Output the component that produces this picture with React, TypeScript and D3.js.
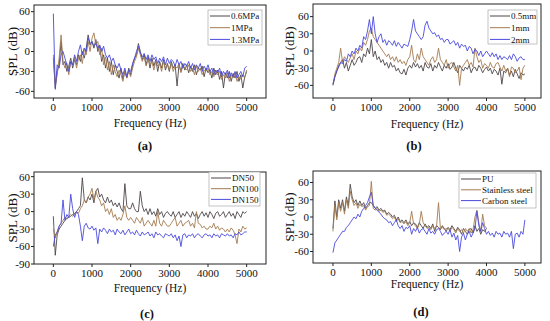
import React from 'react';
import * as d3 from 'd3';

// frequency step (Hz) between successive values
const STEP = 50;
const X_TICKS = [0, 1000, 2000, 3000, 4000, 5000];

// (a) pressure
const A_NAMES = ['0.6MPa', '1MPa', '1.3MPa'];
const A_06 = [
  -10, -55, -30, -20, 15, -20, -15, -30, -22, -10,
  -25, -12, -20, -5, -15, 0, -10, 5, 25, 10,
  15, 5, 18, 0, 8, -15, -5, -25, -10, -30,
  -15, -35, -20, -30, -40, -25, -42, -30, -40, -25,
  -35, -20, -10, -5, 12, 0, -12, -5, -20, -8,
  -25, -10, -22, -12, -30, -15, -25, -12, -28, -18,
  -30, -15, -25, -20, -52, -20, -30, -18, -28, -20,
  -32, -22, -30, -20, -35, -25, -28, -22, -38, -25,
  -32, -28, -40, -25, -35, -28, -42, -30, -55, -32,
  -40, -30, -45, -33, -40, -30, -45, -35, -55, -38,
  -30,
];
const A_1 = [
  -5, -50, -35, -10, 25, -15, -25, -18, -35, -15,
  -20, -8, -25, -10, -5, -18, 5, -5, 15, 0,
  20, 28, 10, 15, -5, 5, -20, -8, -28, -15,
  -35, -20, -30, -38, -28, -35, -45, -28, -40, -30,
  -38, -25, -15, -8, 5, -5, -15, -8, -22, -12,
  -20, -15, -28, -15, -22, -18, -30, -15, -25, -20,
  -28, -18, -30, -22, -25, -18, -32, -22, -25, -28,
  -20, -30, -25, -35, -22, -30, -25, -35, -28, -30,
  -25, -35, -30, -38, -28, -35, -30, -42, -35, -40,
  -32, -45, -35, -40, -32, -45, -38, -42, -35, -40,
  -28,
];
const A_13 = [
  57, -57, -20, -25, -5, 0, -10, -20, -30, -15,
  -20, -5, -15, 0, 10, -5, 5, 0, 20, 12,
  15, 8, 12, 5, 10, 0, 8, -5, -10, -5,
  -15, -10, -20, -25, -18, -28, -35, -25, -38, -28,
  -30, -18, -10, 0, 8, -2, -8, -3, -12, -5,
  -15, -5, -12, -8, -18, -10, -15, -8, -20, -10,
  -18, -12, -15, -22, -12, -20, -15, -25, -18, -22,
  -15, -25, -18, -28, -20, -25, -18, -30, -22, -28,
  -20, -30, -25, -35, -28, -32, -25, -38, -30, -35,
  -28, -40, -32, -38, -30, -40, -35, -30, -38, -25,
  -22,
];

// (b) gap
const B_NAMES = ['0.5mm', '1mm', '2mm'];
const B_05 = [
  -60, -45, -35, -25, -20, -15, -30, -20, -35, -25,
  -15, -25, -20, -12, -10, -20, -5, -10, 5, -5,
  20, -10, 0, -15, -10, -20, -15, -25, -20, -30,
  -20, -28, -25, -35, -30, -38, -40, -32, -42, -30,
  -25, -30, -20, -28, -22, -30, -25, -35, -20, -28,
  -30, -22, -35, -25, -30, -20, -28, -35, -25, -30,
  -22, -32, -28, -20, -30, -38, -25, -30, -35, -28,
  -32, -25, -38, -30, -28, -35, -25, -30, -38, -32,
  -28, -35, -30, -40, -32, -35, -42, -30, -58, -35,
  -38, -30, -42, -35, -45, -32, -40, -48, -38, -42,
  -40,
];
const B_1 = [
  -58, -40, -30, -20, 5, -20, -10, -15, -20, -12,
  -5, -15, 0, -5, 5, 0, 15, 10, 20, 35,
  40, 25, 20, 15, 10, 5, 0, -5, -10, -5,
  -15, -10, -18, -10, -20, -15, -22, -18, -25, -15,
  -10, 10, -15, -20, -5, -15, 5, -10, -15, -20,
  -25, -15, -10, -20, -15, 5, -15, -20, -25, -15,
  -30, -22, -20, -28, -35, -25, -60, -30, -25, -20,
  -15, -25, -20, -28, 5, -10, -20, -15, -30, -22,
  -25, -30, -20, -28, -30, -22, -20, -28, -35, -25,
  -35, -30, -45, -28, -30, -38, -35, -28, -50, -30,
  -25,
];
const B_2 = [
  -58, -45, -35, -28, -20, -22, -15, -18, -5, -10,
  0, -5, 5, 0, 10, 5, 25, 20, 35, 55,
  30, 60, 30, 15, 25, 30, 15, 20, 10, 18,
  15, 10, 18, 8, 15, 10, 5, 12, 10, 8,
  20, 35, 55, 35, 30, 25, 20, 25, 45, 52,
  40, 35, 30, 32, 25, 28, 20, 22, 15, 20,
  20, 12, 15, 18, 10, 15, 5, 12, 8, 10,
  0, 8, 5, -5, 3, 0, -8, 0, -10, -5,
  0, -5, -10, -3, -10, -5, -15, -8, -15, -10,
  -12, -15, -8, -15, -5, -10, -18, -12, -10, -15,
  -15,
];

// (c) pipe diameter
const C_NAMES = ['DN50', 'DN100', 'DN150'];
const C_50 = [
  -8, -75, -40, -30, -25, -20, -15, -12, -10, -8,
  -5, -3, 0, 5, 10, 58, 20, 15, 25, 20,
  30, 15, 35, 40, 25, 30, 20, 15, 25, 15,
  20, 10, 15, 8, 15, 5, 0, 48, 10, 5,
  5, 15, 5, 0, 0, 35, 10, 0, 5, -5,
  5, -5, 0, -8, 5, -5, 0, -10, -3, 0,
  -5, -8, 0, -10, -5, 0, -10, -3, -8, 0,
  -5, -10, 0, -8, -3, -12, -5, 0, -8, -2,
  -10, 0, -5, -12, -3, 0, -8, -5, 0, -10,
  -5, 0, -8, -3, -12, 0, -5, -10, 0, -3,
  0,
];
const C_100 = [
  -30, -45, -35, -25, -20, -15, -10, -12, -8, -5,
  -8, -5, 0, -3, 5, 10, 20, 15, 25, 30,
  40, 20, 35, 25, 20, 10, 15, 0, 5, -5,
  5, -10, -5, -15, -10, -15, -5, 10, -10, -15,
  -10, -15, -20, -10, -15, -20, -10, -25, -20, -15,
  -20, -25, -15, -25, 0, -20, -25, -15, -20, -25,
  -25, -20, -15, -10, -25, -20, -15, -25, -20, -18,
  -15, -25, -20, -28, 0, -20, -22, -28, -25, -30,
  -30, -25, -28, -20, -30, -25, -32, -28, -30, -35,
  -30, -35, -28, -32, -40, -55, -30, -35, -25, -30,
  -28,
];
const C_150 = [
  -60, -40, -35, -25, -20, 20, -15, -5, -10, 30,
  5, -10, 0, -5, -25, -50, -25, -20, -28, -30,
  -25, -32, -28, -55, -30, -35, -28, -32, -38, -30,
  -35, -32, -40, -30, -35, -38, -32, -40, -35, -30,
  -38, -35, -40, -32, -38, -42, -35, -40, -38, -35,
  -42, -38, -45, -35, -40, -38, -42, -45, -38, -40,
  -42, -38, -45, -40, -50, -42, -60, -40, -38, -45,
  -40, -42, -38, -45, -40, -38, -42, -45, -40, -38,
  -42, -40, -45, -38, -42, -40, -45, -38, -40, -42,
  -38, -42, -40, -45, -38, -40, -35, -40, -38, -35,
  -35,
];

// (d) pipe material
const D_NAMES = ['PU', 'Stainless steel', 'Carbon steel'];
const D_PU = [
  -20, 28, 0, 30, 15, 30, 10, 35, 20, 57,
  35, 25, 30, 20, 28, 20, 25, 15, 20, 25,
  25, 20, 15, 18, 12, 15, 10, 12, 5, 8,
  5, 0, 3, -5, 0, -8, -5, -10, -5, -12,
  -8, -15, -10, -12, -18, -10, -15, -20, -12, -18,
  -15, -20, -12, -25, -15, -18, -22, -15, -20, -25,
  -18, -22, -15, -20, -25, -18, -22, -30, -20, -25,
  -30, -22, -20, -28, -15, -25, -20, -30, -22, -25,
  -20,
];
const D_SS = [
  -25, 20, -5, 25, 10, 25, 5, 30, 15, 45,
  30, 20, 25, 15, 22, 18, 20, 12, 18, 20,
  62, 15, 12, 15, 10, 12, 8, 10, 3, 5,
  2, -3, 0, -8, -3, -10, -8, -12, -8, -15,
  -10, 10, -12, -15, -20, -12, 10, -10, -15, -20,
  -18, -22, -15, -20, -15, 25, -20, -18, -22, -20,
  -20, -25, -18, -22, -28, -20, -25, -22, -28, -20,
  -25, -20, -28, -22, 0, 12, -10, -25, 5, -15,
  -20,
];
const D_CS = [
  -62, -45, -40, -35, -30, -25, -25, -18, -15, -10,
  -5, 0, -3, 5, 0, 10, 15, 20, 25, 35,
  43, 20, 15, 12, 8, 5, 0, -3, -5, -10,
  -8, -15, -10, -5, -15, -20, -15, -25, -18, -20,
  -15, -30, -20, -25, -18, -28, -22, -20, -25, -30,
  -20, -28, -25, -30, -22, -20, -25, -32, -28, -25,
  -30, -22, -35, -28, -40, -32, -60, -35, -28, -40,
  -30, -25, -35, -28, -20, 10, -15, -25, -10, -20,
  -30, -25, -32, -28, -35, -25, -30, -28, -35, -25,
  -30, -28, -35, -25, -55, -30, -28, -35, -25, -30,
  -5,
];

const COLORS = ['#4e4649', '#a47a50', '#4a4ade'];
const FONT = "'Liberation Serif', 'Times New Roman', serif";

type PanelCfg = {
  tag: string;
  frame: [number, number, number, number];
  xDom: [number, number];
  yDom: [number, number];
  yTicks: number[];
  series: number[][];
  names: string[];
  legend: { x: number; y: number; w: number; h: number; row: number };
  yLabelX: number;
  xLabelY: number;
  tagX: number;
  tagY: number;
};

const PANELS: PanelCfg[] = [
  {
    tag: '(a)', frame: [34, 5, 266, 98], xDom: [-500, 5500], yDom: [-70, 70],
    yTicks: [-60, -30, 0, 30, 60], series: [A_06, A_1, A_13], names: A_NAMES,
    legend: { x: 208, y: 10, w: 54, h: 35, row: 11.7 },
    yLabelX: 12, xLabelY: 127, tagX: 145, tagY: 150,
  },
  {
    tag: '(b)', frame: [313, 4, 541, 98], xDom: [-520, 5420], yDom: [-82, 82],
    yTicks: [-60, -30, 0, 30, 60], series: [B_05, B_1, B_2], names: B_NAMES,
    legend: { x: 488, y: 10, w: 49, h: 34, row: 11.7 },
    yLabelX: 289, xLabelY: 128, tagX: 414, tagY: 150,
  },
  {
    tag: '(c)', frame: [34, 172, 266, 264], xDom: [-500, 5500], yDom: [-90, 68],
    yTicks: [-90, -60, -30, 0, 30, 60], series: [C_50, C_100, C_150], names: C_NAMES,
    legend: { x: 209, y: 172, w: 51, h: 34, row: 10.7 },
    yLabelX: 12, xLabelY: 292, tagX: 147, tagY: 318,
  },
  {
    tag: '(d)', frame: [313, 171, 541, 263], xDom: [-520, 5420], yDom: [-80, 80],
    yTicks: [-60, -30, 0, 30, 60], series: [D_PU, D_SS, D_CS], names: D_NAMES,
    legend: { x: 459, y: 173, w: 77, h: 35, row: 10.8 },
    yLabelX: 289, xLabelY: 288, tagX: 421, tagY: 316,
  },
];

function Panel({ cfg }: { cfg: PanelCfg }) {
  const [l, t, r, b] = cfg.frame;
  const x = d3.scaleLinear().domain(cfg.xDom).range([l, r]);
  const y = d3.scaleLinear().domain(cfg.yDom).range([b, t]);
  const line = d3.line<number>().x((_, i) => x(i * STEP)).y((d) => y(d));
  const lg = cfg.legend;
  return (
    <g>
      {cfg.series.map((s, k) => (
        <path key={k} d={line(s) || ''} fill="none" stroke={COLORS[k]} strokeWidth={0.9} strokeLinejoin="round" />
      ))}
      <rect x={l} y={t} width={r - l} height={b - t} fill="none" stroke="#222" strokeWidth={1} />
      {cfg.yTicks.map((v) => (
        <g key={v}>
          <line x1={l - 3} x2={l} y1={y(v)} y2={y(v)} stroke="#222" />
          <text x={l - 4} y={y(v)} dy="0.35em" textAnchor="end" fontSize={11} fontFamily={FONT} fill="#111">{v}</text>
        </g>
      ))}
      {X_TICKS.map((v) => (
        <g key={v}>
          <line x1={x(v)} x2={x(v)} y1={b} y2={b + 3} stroke="#222" />
          <text x={x(v)} y={b + 13} textAnchor="middle" fontSize={11} fontFamily={FONT} fill="#111">{v}</text>
        </g>
      ))}
      <text transform={`translate(${cfg.yLabelX},${(t + b) / 2}) rotate(-90)`} textAnchor="middle" dy="0.35em" fontSize={13} fontFamily={FONT} fill="#111">SPL (dB)</text>
      <text x={(l + r) / 2} y={cfg.xLabelY} textAnchor="middle" fontSize={11.5} fontFamily={FONT} fill="#111">Frequency (Hz)</text>
      <text x={cfg.tagX} y={cfg.tagY} textAnchor="middle" fontSize={12.5} fontWeight="bold" fontFamily={FONT} fill="#111">{cfg.tag}</text>
      <rect x={lg.x} y={lg.y} width={lg.w} height={lg.h} fill="#fff" stroke="#aaa" strokeWidth={0.7} />
      {cfg.names.map((n, k) => {
        const yy = lg.y + 6 + k * lg.row;
        return (
          <g key={n}>
            <line x1={lg.x + 2} x2={lg.x + 22} y1={yy} y2={yy} stroke={COLORS[k]} strokeWidth={1} />
            <text x={lg.x + 23} y={yy} dy="0.35em" fontSize={9} fontFamily={FONT} fill="#111">{n}</text>
          </g>
        );
      })}
    </g>
  );
}

export default function App() {
  return (
    <svg width={550} height={321} style={{ position: 'absolute', left: 0, top: 0, background: '#fff' }}>
      <rect width={550} height={321} fill="#fff" />
      {PANELS.map((p) => (
        <Panel key={p.tag} cfg={p} />
      ))}
    </svg>
  );
}
